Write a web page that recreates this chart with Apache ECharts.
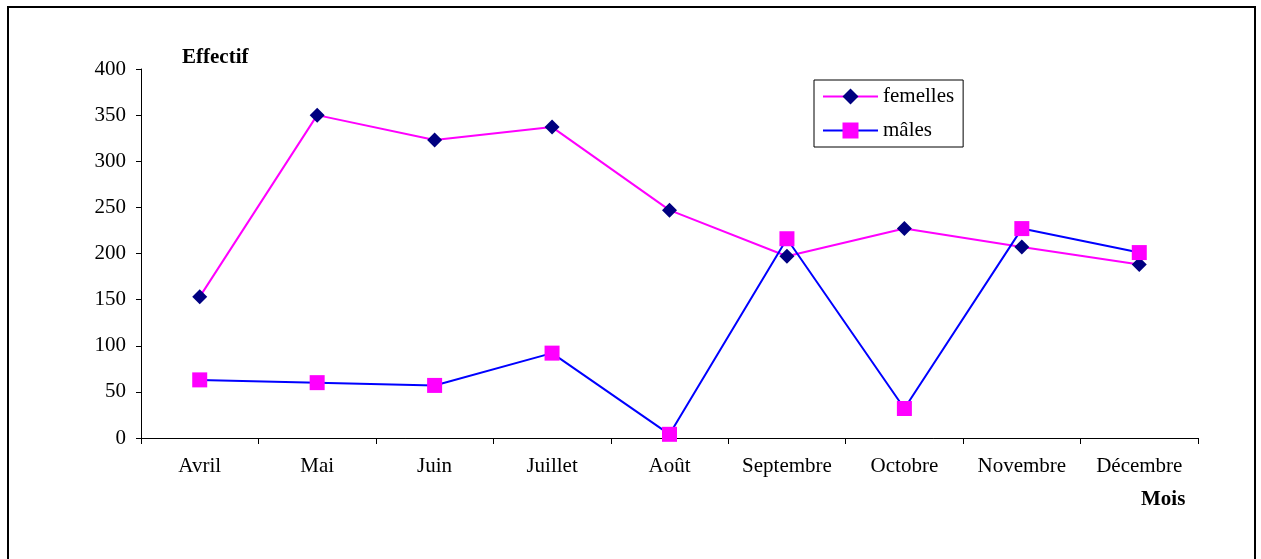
<!DOCTYPE html>
<html>
<head>
<meta charset="utf-8">
<script src="https://cdn.jsdelivr.net/npm/echarts@6/dist/echarts.min.js"></script>
<style>
  html, body { margin: 0; padding: 0; background: #fff; }
  #chart { width: 1261px; height: 559px; }
</style>
</head>
<body>
<div id="chart"></div>
<script>
// mois
var mois = ['Avril', 'Mai', 'Juin', 'Juillet', 'Août', 'Septembre', 'Octobre', 'Novembre', 'Décembre'];
// effectifs
var femelles = [153, 350, 323, 337, 247, 197, 227, 207, 188];
var males = [63, 60, 57, 92, 4, 216, 32, 227, 201];
var yTicks = [0, 50, 100, 150, 200, 250, 300, 350, 400];

var serif = '"Liberation Serif", "DejaVu Serif", serif';

var option = {
    backgroundColor: '#fff',
    animation: false,
    textStyle: { fontFamily: serif },
    graphic: [{
        type: 'rect',
        shape: { x: 8, y: 7, width: 1247, height: 570 },
        style: { fill: 'none', stroke: '#000', lineWidth: 2 }
    }, {
        type: 'text',
        left: 182, top: 47,
        style: { text: 'Effectif', font: 'bold 21px ' + serif, fill: '#000' }
    }, {
        type: 'text',
        left: 1141, top: 489,
        style: { text: 'Mois', font: 'bold 21px ' + serif, fill: '#000' }
    }],
    legend: {
        orient: 'vertical',
        left: 814, top: 80,
        padding: [6, 9, 6, 8],
        itemGap: 13,
        itemWidth: 55,
        itemHeight: 20,
        borderColor: '#000',
        borderWidth: 1,
        borderRadius: 0,
        textStyle: { fontFamily: serif, fontSize: 21, color: '#000' },
        data: ['femelles', 'mâles']
    },
    grid: { left: 141, right: 63, top: 69, bottom: 121 },
    xAxis: {
        type: 'category',
        data: mois,
        boundaryGap: true,
        axisLine: { lineStyle: { color: '#000', width: 1 } },
        axisTick: { show: true, length: 6, lineStyle: { color: '#000' } },
        axisLabel: { color: '#000', fontSize: 21, fontFamily: serif, margin: 18 },
        splitLine: { show: false }
    },
    yAxis: {
        type: 'value',
        min: yTicks[0],
        max: yTicks[yTicks.length - 1],
        interval: 50,
        axisLine: { show: true, lineStyle: { color: '#000', width: 1 } },
        axisTick: { show: true, length: 5, lineStyle: { color: '#000' } },
        axisLabel: { color: '#000', fontSize: 21, fontFamily: serif, margin: 15 },
        splitLine: { show: false }
    },
    series: [{
        name: 'femelles',
        type: 'line',
        data: femelles,
        symbol: 'diamond',
        symbolSize: 15,
        lineStyle: { color: '#FF00FF', width: 2 },
        itemStyle: { color: '#000080' },
        z: 2
    }, {
        name: 'mâles',
        type: 'line',
        data: males,
        symbol: 'rect',
        symbolSize: 15,
        lineStyle: { color: '#0000FF', width: 2 },
        itemStyle: { color: '#FF00FF' },
        z: 3
    }]
};

var myChart = echarts.init(document.getElementById('chart'));
myChart.setOption(option);
</script>
</body>
</html>
